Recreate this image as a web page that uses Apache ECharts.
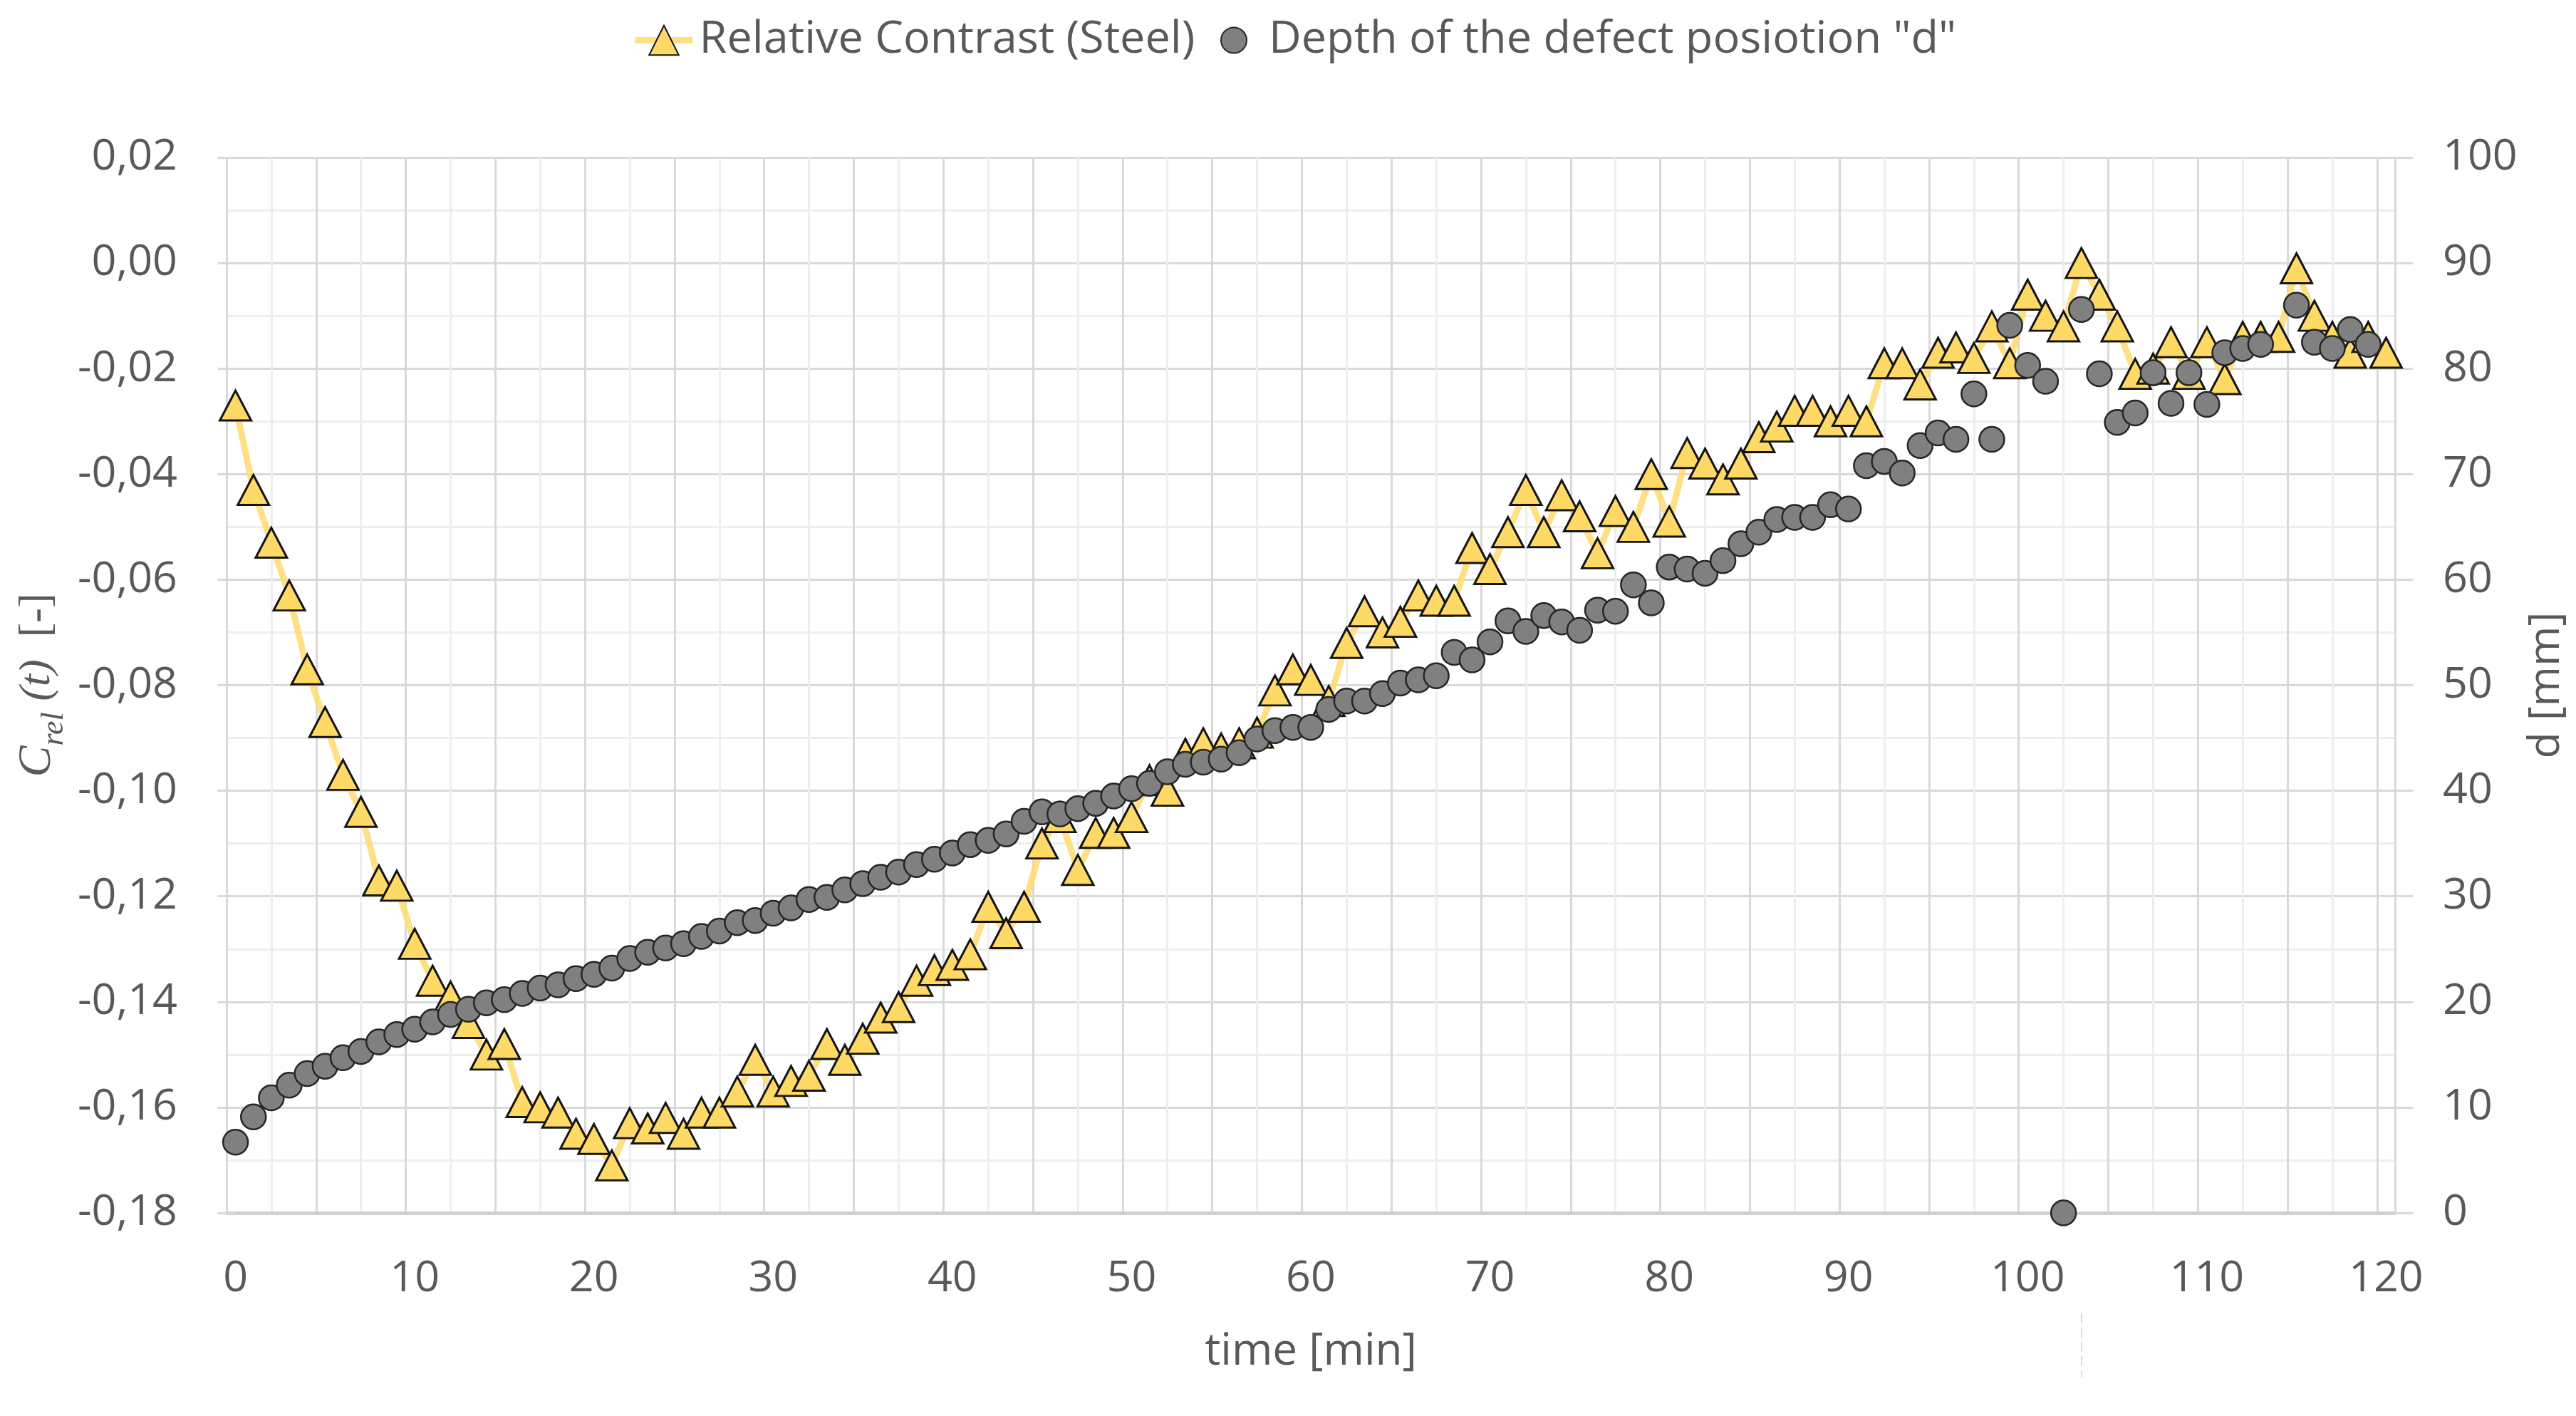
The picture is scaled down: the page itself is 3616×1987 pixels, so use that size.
<!DOCTYPE html>
<html>
<head>
<meta charset="utf-8">
<script src="https://cdn.jsdelivr.net/npm/echarts@6/dist/echarts.min.js"></script>
<style>
html,body{margin:0;padding:0;background:#fff;}
#chart{width:3616px;height:1987px;}
</style>
</head>
<body>
<div id="chart"></div>
<script>
// time categories (minutes)
const timeMin = [];
for (let i = 0; i <= 120; i++) timeMin.push(String(i));

// Relative contrast C_rel(t)
const relContrast = [
-0.027,-0.043,-0.053,-0.063,-0.077,-0.087,-0.097,-0.104,-0.117,-0.118,
-0.129,-0.136,-0.139,-0.144,-0.150,-0.148,-0.159,-0.160,-0.161,-0.165,
-0.166,-0.171,-0.163,-0.164,-0.162,-0.165,-0.161,-0.161,-0.157,-0.151,
-0.157,-0.155,-0.154,-0.148,-0.151,-0.147,-0.143,-0.141,-0.136,-0.134,
-0.133,-0.131,-0.122,-0.127,-0.122,-0.110,-0.105,-0.115,-0.108,-0.108,
-0.105,-0.098,-0.100,-0.093,-0.091,-0.092,-0.091,-0.089,-0.081,-0.077,
-0.079,-0.083,-0.072,-0.066,-0.070,-0.068,-0.063,-0.064,-0.064,-0.054,
-0.058,-0.051,-0.043,-0.051,-0.044,-0.048,-0.055,-0.047,-0.050,-0.040,
-0.049,-0.036,-0.038,-0.041,-0.038,-0.033,-0.031,-0.028,-0.028,-0.030,
-0.028,-0.030,-0.019,-0.019,-0.023,-0.017,-0.016,-0.018,-0.012,-0.019,
-0.006,-0.010,-0.012,0.000,-0.006,-0.012,-0.021,-0.020,-0.015,-0.021,
-0.015,-0.022,-0.014,-0.014,-0.014,-0.001,-0.010,-0.014,-0.017,-0.014,
-0.017
];

// Depth of the defect position d [mm]
const defectDepth = [
6.7,9.1,10.9,12.1,13.2,13.9,14.7,15.3,16.2,16.9,
17.4,18.1,18.8,19.3,19.9,20.2,20.8,21.3,21.6,22.2,
22.6,23.2,24.1,24.7,25.1,25.5,26.2,26.7,27.5,27.7,
28.4,28.9,29.7,29.9,30.6,31.2,31.8,32.3,33.0,33.5,
34.1,34.9,35.3,35.9,37.1,38.0,37.8,38.3,38.8,39.5,
40.2,40.7,41.8,42.5,42.7,43.0,43.6,44.9,45.7,46.0,
46.0,47.7,48.5,48.5,49.2,50.2,50.5,50.9,53.1,52.4,
54.1,56.1,55.1,56.6,56.0,55.2,57.1,57.0,59.5,57.8,
61.2,61.0,60.6,61.8,63.4,64.5,65.7,65.9,65.9,67.1,
66.7,70.8,71.2,70.1,72.7,73.9,73.3,77.6,73.3,84.1,
80.3,78.8,0,85.6,79.5,74.9,75.8,79.6,76.7,79.6,
76.6,81.5,81.9,82.3,null,86.0,82.5,81.9,83.7,82.3,
null
];

const seriesNames = ['Relative Contrast (Steel)', 'Depth of the defect posiotion "d"'];

const FONT = '"Open Sans", "Noto Sans", sans-serif';
const TXT = '#595959';
const GRID_DARK = '#D9D9D9';
const GRID_LIGHT = '#EEEEEE';
const LINE_YELLOW = '#FFDB6E';

const chart = echarts.init(document.getElementById('chart'), null, {renderer: 'canvas'});

const option = {
  backgroundColor: '#ffffff',
  animation: false,
  textStyle: {fontFamily: FONT},
  legend: [
    {
      top: 20,
      left: 882,
      itemWidth: 81,
      itemHeight: 52,
      lineStyle: {width: 9, color: LINE_YELLOW},
      textStyle: {fontFamily: FONT, fontSize: 63, color: TXT, padding: [0, 0, 0, 4]},
      data: [{name: seriesNames[0]}]
    },
    {
      top: 20,
      left: 1708,
      itemWidth: 36,
      itemHeight: 36,
      textStyle: {fontFamily: FONT, fontSize: 63, color: TXT, padding: [0, 0, 0, 26]},
      data: [{name: seriesNames[1]}]
    }
  ],
  grid: {left: 318, right: 254, top: 221, bottom: 285, containLabel: false},
  xAxis: [
    {
      // gridline helper axis: boundaries every 2.5 min
      type: 'value',
      min: -0.5,
      max: 120.5,
      interval: 2.5,
      position: 'bottom',
      axisLine: {show: false},
      axisTick: {show: false},
      axisLabel: {show: false},
      splitLine: {show: true, lineStyle: {color: [GRID_DARK, GRID_LIGHT], width: 3}}
    },
    {
      type: 'category',
      data: timeMin,
      boundaryGap: true,
      position: 'bottom',
      name: 'time [min]',
      nameLocation: 'middle',
      nameGap: 164,
      nameTextStyle: {fontFamily: FONT, fontSize: 62, color: TXT},
      axisLine: {show: true, onZero: false, lineStyle: {color: '#D0D0D0', width: 5}},
      axisTick: {show: false},
      axisLabel: {interval: 9, margin: 62, fontFamily: FONT, fontSize: 61, color: TXT},
      splitLine: {show: false}
    }
  ],
  yAxis: [
    {
      type: 'value',
      min: -0.18,
      max: 0.02,
      interval: 0.02,
      position: 'left',
      name: '{c|C}{sub|rel}{it| (t)}{rg|  [-]}',
      nameLocation: 'middle',
      nameRotate: 90,
      nameGap: 215,
      nameTextStyle: {
        color: TXT,
        rich: {
          c: {fontFamily: '"Liberation Serif", serif', fontStyle: 'italic', fontSize: 66, color: TXT, lineHeight: 90, verticalAlign: 'middle'},
          sub: {fontFamily: '"Liberation Serif", serif', fontStyle: 'italic', fontSize: 44, color: TXT, lineHeight: 40, verticalAlign: 'bottom'},
          it: {fontFamily: '"Liberation Serif", serif', fontStyle: 'italic', fontSize: 62, color: TXT, lineHeight: 90, verticalAlign: 'middle'},
          rg: {fontFamily: '"Liberation Serif", serif', fontSize: 62, color: TXT, lineHeight: 90, verticalAlign: 'middle'}
        }
      },
      axisLine: {show: false},
      axisTick: {show: true, inside: false, length: 25, lineStyle: {color: GRID_DARK, width: 3}},
      minorTick: {show: false, splitNumber: 2},
      minorSplitLine: {show: true, lineStyle: {color: GRID_LIGHT, width: 3}},
      splitLine: {show: true, lineStyle: {color: GRID_DARK, width: 3}},
      axisLabel: {
        margin: 69,
        fontFamily: FONT,
        fontSize: 61,
        color: TXT,
        formatter: function (v) {
          if (Math.abs(v) < 1e-9) return '0,00';
          return v.toFixed(2).replace('.', ',');
        }
      }
    },
    {
      type: 'value',
      min: 0,
      max: 100,
      interval: 10,
      position: 'right',
      name: 'd [mm]',
      nameLocation: 'middle',
      nameRotate: 90,
      nameGap: 148,
      nameTextStyle: {fontFamily: FONT, fontSize: 61, color: TXT},
      axisLine: {show: true, lineStyle: {color: GRID_DARK, width: 3}},
      axisTick: {show: true, inside: false, length: 25, lineStyle: {color: GRID_DARK, width: 3}},
      splitLine: {show: false},
      axisLabel: {margin: 67, fontFamily: FONT, fontSize: 61, color: TXT}
    }
  ],
  graphic: [
    {
      type: 'line',
      shape: {x1: 2922, y1: 1843, x2: 2922, y2: 1933},
      style: {stroke: '#DDDDDD', lineWidth: 2, lineDash: [14, 6]},
      silent: true
    }
  ],
  series: [
    {
      name: seriesNames[0],
      type: 'line',
      xAxisIndex: 1,
      yAxisIndex: 0,
      data: relContrast,
      smooth: false,
      symbol: 'triangle',
      symbolSize: [44, 42],
      showAllSymbol: true,
      lineStyle: {color: LINE_YELLOW, width: 9, opacity: 0.85},
      itemStyle: {color: '#FFD966', borderColor: '#141414', borderWidth: 3},
      z: 2
    },
    {
      name: seriesNames[1],
      type: 'scatter',
      xAxisIndex: 1,
      yAxisIndex: 1,
      data: defectDepth,
      symbol: 'circle',
      symbolSize: 35,
      itemStyle: {color: '#808080', borderColor: '#262626', borderWidth: 2.5, opacity: 1},
      z: 3
    }
  ]
};

chart.setOption(option);
</script>
</body>
</html>
